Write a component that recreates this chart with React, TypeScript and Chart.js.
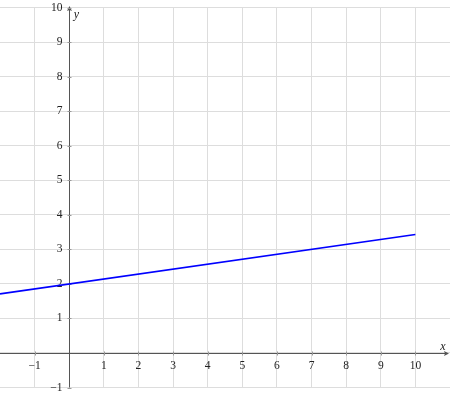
import React, { useEffect, useRef } from "react";
import { Chart, registerables } from "chart.js";

Chart.register(...registerables);

// data
const lineX = [-2, 10];
const lineY = [1.71, 3.43];
const xTickValues = [-1, 1, 2, 3, 4, 5, 6, 7, 8, 9, 10];
const yTickValues = [-1, 1, 2, 3, 4, 5, 6, 7, 8, 9, 10];
const xRange = [-2, 11];
const yRange = [-1, 10];
const xAxisLabel = "x";
const yAxisLabel = "y";

const fmt = (v: number) => (v < 0 ? "\u2212" + Math.abs(v) : String(v));

const FONT = '"Liberation Serif", "DejaVu Serif", serif';
const GRID = "#dddddd";

const middleAxes = {
  id: "middleAxes",
  beforeDatasetsDraw(chart: any) {
    const { ctx } = chart;
    const xs = chart.scales.x;
    const ys = chart.scales.y;
    const x0 = Math.round(xs.getPixelForValue(0)) + 0.5;
    const y0 = Math.round(ys.getPixelForValue(0)) + 0.5;
    ctx.save();
    ctx.strokeStyle = "#555";
    ctx.fillStyle = "#555";
    ctx.lineWidth = 1;

    // x axis with arrow
    const xTip = xs.right - 1;
    ctx.beginPath();
    ctx.moveTo(xs.left, y0);
    ctx.lineTo(xTip - 2, y0);
    ctx.stroke();
    ctx.beginPath();
    ctx.moveTo(xTip, y0);
    ctx.lineTo(xTip - 5, y0 - 2.5);
    ctx.lineTo(xTip - 4, y0);
    ctx.lineTo(xTip - 5, y0 + 2.5);
    ctx.closePath();
    ctx.fill();

    // y axis with arrow
    const yBottom = ys.getPixelForValue(yRange[0]);
    const yTip = ys.top - 1.5;
    ctx.beginPath();
    ctx.moveTo(x0, yBottom);
    ctx.lineTo(x0, yTip + 2);
    ctx.stroke();
    ctx.beginPath();
    ctx.moveTo(x0, yTip);
    ctx.lineTo(x0 - 2.5, yTip + 5);
    ctx.lineTo(x0, yTip + 4);
    ctx.lineTo(x0 + 2.5, yTip + 5);
    ctx.closePath();
    ctx.fill();

    // tick marks
    ctx.strokeStyle = "#999";
    xTickValues.forEach((v) => {
      const px = Math.round(xs.getPixelForValue(v)) + 0.5;
      ctx.beginPath();
      ctx.moveTo(px, y0 - 2);
      ctx.lineTo(px, y0 + 2);
      ctx.stroke();
    });
    yTickValues.forEach((v) => {
      const py = Math.round(ys.getPixelForValue(v)) + 0.5;
      ctx.beginPath();
      ctx.moveTo(x0 - 2, py);
      ctx.lineTo(x0 + 2, py);
      ctx.stroke();
    });

    // tick labels
    ctx.fillStyle = "#222";
    ctx.font = `11.5px ${FONT}`;
    ctx.textAlign = "center";
    ctx.textBaseline = "middle";
    xTickValues.forEach((v) => {
      ctx.fillText(fmt(v), xs.getPixelForValue(v), y0 + 12.5);
    });
    ctx.textAlign = "right";
    yTickValues.forEach((v) => {
      ctx.fillText(fmt(v), x0 - 7, ys.getPixelForValue(v));
    });

    // axis labels
    ctx.font = `italic 12px ${FONT}`;
    ctx.textAlign = "center";
    ctx.fillText(xAxisLabel, xs.right - 7, y0 - 7);
    ctx.fillText(yAxisLabel, x0 + 7, ys.top + 7);
    ctx.restore();
  },
};

export default function App() {
  const ref = useRef<HTMLCanvasElement>(null);
  useEffect(() => {
    if (!ref.current) return;
    const chart = new Chart(ref.current, {
      type: "line",
      data: {
        datasets: [
          {
            data: lineX.map((x, i) => ({ x, y: lineY[i] })),
            borderColor: "#0000ff",
            borderWidth: 1.6,
            pointRadius: 0,
            fill: false,
            tension: 0,
          },
        ],
      },
      options: {
        animation: false,
        responsive: false,
        maintainAspectRatio: false,
        layout: { padding: { left: 0, right: 0, top: 7.5, bottom: 8.5 } },
        plugins: { legend: { display: false }, tooltip: { enabled: false } },
        scales: {
          x: {
            type: "linear",
            min: xRange[0],
            max: xRange[1],
            ticks: { display: false, stepSize: 1 },
            grid: {
              color: (c: any) =>
                c.tick && (c.tick.value === xRange[0] || c.tick.value === xRange[1]) ? "rgba(0,0,0,0)" : GRID,
              drawTicks: false,
              lineWidth: 1,
            },
            border: { display: false },
          },
          y: {
            type: "linear",
            min: yRange[0],
            max: yRange[1],
            ticks: { display: false, stepSize: 1 },
            grid: { color: GRID, drawTicks: false, lineWidth: 1 },
            border: { display: false },
          },
        },
      },
      plugins: [middleAxes],
    });
    return () => chart.destroy();
  }, []);
  return (
    <div style={{ position: "fixed", left: 0, top: 0, width: 450, height: 396, background: "#fff" }}>
      <canvas ref={ref} width={450} height={396} style={{ display: "block" }} />
    </div>
  );
}
